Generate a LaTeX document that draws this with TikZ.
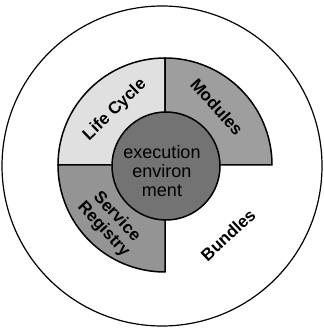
\documentclass[tikz,border=0pt]{standalone}
\usepackage{fontspec}
\setmainfont{Liberation Sans}
\usepackage{tikz}
\usetikzlibrary{calc,positioning}
\usepackage{xcolor}

\tikzset{
    segment/.style={draw=black, line width=1.5pt, line join=round},
    seglabel/.style={font=\fontsize{17}{18}\selectfont\bfseries, inner sep=0pt},
}

\begin{document}
\begin{tikzpicture}[x=1pt, y=1pt]
    % Page frame
    \useasboundingbox (-165, 165) rectangle (158, -166);

    % Outer circle (bundles)
    \draw[line width=1.2pt] (-3, -1) circle (160);

    % Three quarter segments of the ring
    \foreach \a/\shade in {90/black!12, 0/black!38, 180/black!42} {
        \filldraw[segment, fill=\shade] (0, 0) -- (\a:107) arc[start angle=\a, end angle=\a+90, radius=107] -- cycle;
    }

    % Core
    \filldraw[segment, fill=black!55] (1, -1) circle (54);

    % Labels
    \node[seglabel, rotate=44] (lc) at (-50, 55) {Life Cycle};
    \node[seglabel, rotate=-48] (mod) at (52, 58) {Modules};
    \node[seglabel, rotate=-47, align=center] (sr) at (-55, -58) {Service\\Registry};
    \node[seglabel, rotate=43] (bund) at (63, -70) {Bundles};
    \node[font=\fontsize{18}{19}\selectfont, align=center, inner sep=0pt] (ee) at (-3, -6) {execution\\environ\\ment};
\end{tikzpicture}
\end{document}
